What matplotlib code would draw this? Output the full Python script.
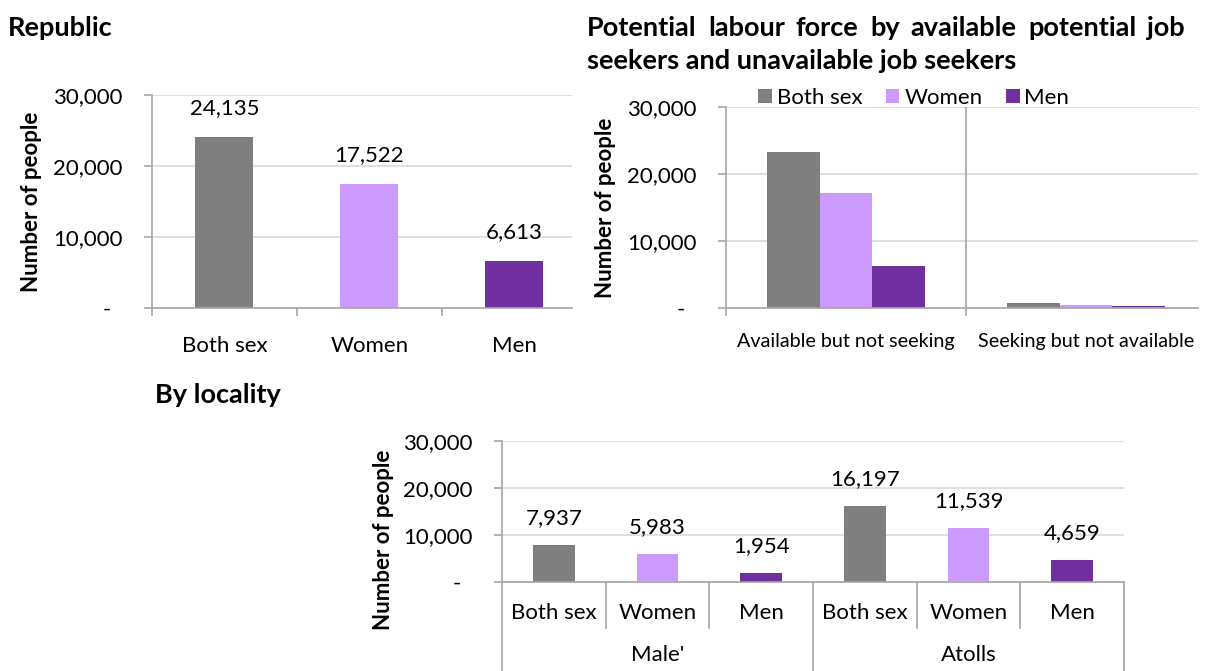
import matplotlib
matplotlib.use("Agg")
import matplotlib.pyplot as plt
from matplotlib.patches import Patch
from matplotlib.ticker import FuncFormatter

plt.rcParams['font.family'] = ['Lato', 'DejaVu Sans']

# ---------------- data ----------------
sexes = ["Both sex", "Women", "Men"]
republic_values = [24135, 17522, 6613]

plf_categories = ["Available but not seeking", "Seeking but not available"]
plf_both = [23340, 795]
plf_women = [17100, 422]
plf_men = [6240, 373]

localities = ["Male'", "Atolls"]
male_values = [7937, 5983, 1954]
atolls_values = [16197, 11539, 4659]

yticks = [0, 10000, 20000, 30000]

# ---------------- style ----------------
COLORS = ["#7F7F7F", "#CC99FF", "#7030A0"]
GRID = "#D9D9D9"
AXC = "#A6A6A6"
TXT = "#000000"
FS = 16
TFS = 19.5
YFS = 16

W, H = 1208, 671
fig = plt.figure(figsize=(W / 100, H / 100), dpi=100)


def ax_px(left, top, right, bottom):
    return fig.add_axes([left / W, 1 - bottom / H, (right - left) / W, (bottom - top) / H])


def fmt(v, pos=None):
    return "-  " if v == 0 else f"{int(v):,}"


def style_axes(ax):
    ax.set_ylim(0, 30000)
    ax.set_yticks(yticks)
    ax.yaxis.set_major_formatter(FuncFormatter(fmt))
    ax.grid(axis='y', color=GRID, linewidth=1.2, zorder=0)
    ax.set_axisbelow(True)
    for s in ['top', 'right']:
        ax.spines[s].set_visible(False)
    for s in ['left', 'bottom']:
        ax.spines[s].set_color(AXC)
        ax.spines[s].set_linewidth(1.2)
    ax.tick_params(axis='y', length=6, width=1.2, color=AXC, pad=15, labelsize=FS, labelcolor=TXT)
    ax.tick_params(axis='x', which='major', length=0, labelsize=FS, labelcolor=TXT)
    ax.tick_params(axis='x', which='minor', length=6, width=1.2, color=AXC)


def justified_line(text, x0, x1, y, **kw):
    renderer = fig.canvas.get_renderer()
    words = text.split()
    items = [fig.text(0, 1 - y / H, w, ha='left', va='center', **kw) for w in words]
    widths = [t.get_window_extent(renderer).width for t in items]
    gap = (x1 - x0 - sum(widths)) / (len(words) - 1)
    x = x0
    for t, wd in zip(items, widths):
        t.set_x(x / W)
        x += wd + gap


# ---------------- chart 1: Republic ----------------
ax1 = ax_px(152, 95, 572, 308)
style_axes(ax1)
x1 = list(range(len(sexes)))
ax1.bar(x1, republic_values, width=0.4, color=COLORS, zorder=2)
ax1.set_xlim(-0.5, 2.4)
ax1.set_xticks(x1)
ax1.set_xticklabels(sexes)
ax1.set_xticks([-0.5, 0.5, 1.5], minor=True)
ax1.tick_params(axis='x', which='major', pad=20)
for xi, v in zip(x1, republic_values):
    ax1.annotate(f"{v:,}", xy=(xi, v), xytext=(0, 29), textcoords='offset pixels',
                 ha='center', va='center', fontsize=FS, color=TXT)
fig.text(8 / W, 1 - 28 / H, "Republic", fontsize=TFS, fontweight='bold', ha='left', va='center')
fig.text(32 / W, 1 - 201.5 / H, "Number of people", fontsize=YFS, fontweight='bold',
         rotation=90, ha='center', va='center')

# ---------------- chart 2: Potential labour force ----------------
ax2 = ax_px(726, 107, 1198, 308)
style_axes(ax2)
x2 = list(range(len(plf_categories)))
bw = 0.22
for k, (vals, c) in enumerate(zip([plf_both, plf_women, plf_men], COLORS)):
    ax2.bar([xi + (k - 1) * bw for xi in x2], vals, width=bw, color=c, zorder=2)
ax2.set_xlim(-0.5, 1.467)
ax2.set_xticks(x2)
ax2.set_xticklabels(plf_categories, fontsize=14.2)
ax2.set_xticks([-0.5, 0.5], minor=True)
ax2.tick_params(axis='x', which='major', pad=18)
ax2.axvline(0.5, color=AXC, linewidth=1.2, zorder=1)
justified_line("Potential labour force by available potential job", 587, 1185, 28,
               fontsize=TFS, fontweight='bold')
fig.text(587 / W, 1 - 61 / H, "seekers and unavailable job seekers",
         fontsize=TFS, fontweight='bold', ha='left', va='center')
fig.text(605 / W, 1 - 207.5 / H, "Number of people", fontsize=YFS, fontweight='bold',
         rotation=90, ha='center', va='center')
handles = [Patch(facecolor=c, edgecolor='none') for c in COLORS]
fig.legend(handles, sexes, loc='center left', bbox_to_anchor=(758 / W, 1 - 98 / H),
           ncol=3, frameon=False, fontsize=FS, handlelength=0.62, handleheight=0.62,
           handletextpad=0.22, columnspacing=1.05, borderpad=0, borderaxespad=0)

# ---------------- chart 3: By locality ----------------
ax3 = ax_px(502, 441, 1124, 582)
style_axes(ax3)
loc_vals = male_values + atolls_values
x3 = list(range(len(loc_vals)))
ax3.bar(x3, loc_vals, width=0.4, color=COLORS * 2, zorder=2)
ax3.set_xlim(-0.5, 5.5)
ax3.set_xticks([])
hpx = 582 - 441
xt = ax3.get_xaxis_transform()
for xi, v in zip(x3, loc_vals):
    ax3.annotate(f"{v:,}", xy=(xi, v), xytext=(0, 27), textcoords='offset pixels',
                 ha='center', va='center', fontsize=FS, color=TXT)
    ax3.annotate(sexes[xi % 3], xy=(xi, 0), xycoords=xt, xytext=(0, -31),
                 textcoords='offset pixels', ha='center', va='center', fontsize=FS, color=TXT)
for gi, name in enumerate(localities):
    ax3.annotate(name, xy=(gi * 3 + 1, 0), xycoords=xt, xytext=(0, -73),
                 textcoords='offset pixels', ha='center', va='center', fontsize=FS, color=TXT)
for b in [0.5, 1.5, 3.5, 4.5]:
    ax3.plot([b, b], [0, -46 / hpx], transform=xt, color=AXC, linewidth=1.2, clip_on=False)
for b in [-0.5, 2.5, 5.5]:
    ax3.plot([b, b], [0, -100 / hpx], transform=xt, color=AXC, linewidth=1.2, clip_on=False)
fig.text(155 / W, 1 - 395 / H, "By locality", fontsize=TFS, fontweight='bold', ha='left', va='center')
fig.text(383 / W, 1 - 540 / H, "Number of people", fontsize=YFS, fontweight='bold',
         rotation=90, ha='center', va='center')

fig.savefig("out.png", dpi=100)
